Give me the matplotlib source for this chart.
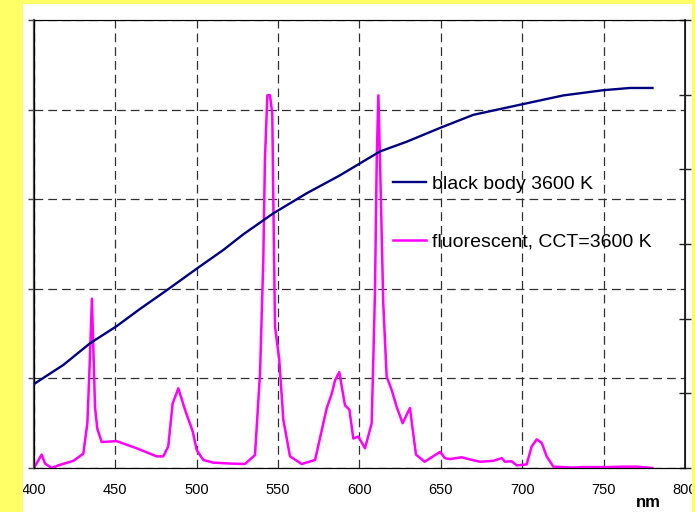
import numpy as np
import matplotlib
matplotlib.use("Agg")
import matplotlib.pyplot as plt
from matplotlib.patches import Rectangle

plt.rcParams['font.family'] = ['Liberation Sans', 'DejaVu Sans']

# ---- data ----
bb_nm = [400, 418, 434.4, 450.8, 465.1, 481.5, 500, 516.3, 528.6, 547, 567.6, 588,
         600.3, 612.6, 629, 649.5, 669.9, 699.6, 725.2, 749.8, 766.2, 780]
bb_val = [1.125, 1.38, 1.67, 1.90, 2.13, 2.38, 2.67, 2.92, 3.13, 3.41, 3.68, 3.92,
          4.08, 4.24, 4.37, 4.555, 4.73, 4.87, 4.99, 5.06, 5.09, 5.09]

fl_nm = [400, 404.7, 406.8, 410.9, 415, 424.2, 430.3, 432.8, 434.4, 435.6, 437.5, 438.9,
         441.6, 450.8, 463.1, 475.4, 479.4, 482.5, 485.2, 488.7, 492.8, 497.5, 500,
         504, 510.2, 520.4, 529.6, 535.8, 538.9, 540.9, 541.9, 543.4, 545, 546.4,
         547, 548.1, 550.7, 553.2, 557.3, 564.5, 572.7, 579.9, 583, 585, 587.6,
         591.1, 593.8, 596.2, 599.3, 603.4, 607.5, 609.5, 610.6, 611.6, 612.6,
         614.6, 616.7, 619.8, 622.9, 626.5, 631, 634.7, 640, 649.5, 652.5, 655.6,
         662.8, 666.9, 674.1, 682.2, 687.4, 689.4, 693.5, 696.6, 702.7, 705.8,
         708.9, 712, 715, 719.1, 731.4, 736.5, 751.9, 762, 770, 780]
fl_val = [0.0, 0.15, 0.05, 0.0, 0.03, 0.08, 0.16, 0.5, 1.24, 1.89, 0.68, 0.44,
          0.29, 0.30, 0.22, 0.13, 0.13, 0.24, 0.72, 0.89, 0.65, 0.41, 0.20,
          0.09, 0.06, 0.05, 0.045, 0.145, 1.06, 2.32, 3.44, 4.16, 4.16, 3.96,
          3.07, 1.58, 1.21, 0.54, 0.13, 0.045, 0.09, 0.67, 0.83, 0.98, 1.07,
          0.70, 0.65, 0.33, 0.35, 0.22, 0.50, 1.95, 3.44, 4.16, 3.44,
          1.84, 1.02, 0.87, 0.68, 0.50, 0.67, 0.15, 0.07, 0.18, 0.11, 0.10,
          0.12, 0.10, 0.07, 0.08, 0.11, 0.07, 0.075, 0.03, 0.04, 0.24,
          0.32, 0.28, 0.13, 0.015, 0.005, 0.01, 0.01, 0.015, 0.015, 0.0]

x_ticks = [400, 450, 500, 550, 600, 650, 700, 750, 800]

fig = plt.figure(figsize=(6.95, 5.12), dpi=100, facecolor='#FFFF66')
fig.add_artist(Rectangle((0.0331, 0), 0.9626, 0.9922, transform=fig.transFigure,
                         facecolor='white', edgecolor='none', zorder=-10))

ax = fig.add_axes([0.0489, 0.0859, 0.9367, 0.875])
ax.set_facecolor('white')
ax2 = ax.twinx()

l2, = ax.plot(fl_nm, fl_val, color='#FF00FF', lw=1.8, zorder=3)
l1, = ax2.plot(bb_nm, bb_val, color='#000080', lw=1.7, zorder=3)

ax.set_xlim(400, 800)
ax.set_ylim(0, 5)
ax2.set_ylim(0, 6)
ax.set_xticks(x_ticks)
ax.set_yticks(range(6))
ax.set_yticklabels([])
ax2.set_yticks(range(7))
ax2.set_yticklabels([])
ax.tick_params(axis='x', length=0, pad=11, labelsize=10.5)
ax.tick_params(axis='y', direction='out', length=4, width=1, color='#404040')
ax2.tick_params(axis='y', direction='inout', length=9, width=1, color='#202020')
ax.grid(True, color='#303030', linestyle=(0, (7, 4)), lw=0.9)

for s in ['left', 'top']:
    ax.spines[s].set_color('#505050')
ax.spines['left'].set_linewidth(1.6)
ax.spines['bottom'].set_color('black')
ax2.spines['right'].set_color('#202020')
ax2.spines['right'].set_linewidth(1.3)

# axis unit label sits under the right end of the axis
ax.text(0.944, -0.078, 'nm', fontsize=12, fontweight='bold', ha='center', va='center',
        transform=ax.transAxes)

leg = ax2.legend([l1, l2], ['black body 3600 K', 'fluorescent, CCT=3600 K'],
                 loc='upper left', bbox_to_anchor=(0.531, 0.683), frameon=False,
                 fontsize=14, handlelength=1.7, handletextpad=0.3, labelspacing=2.05,
                 borderpad=0.2)

# yellow border drawn over clipped tick labels
fig.add_artist(Rectangle((0, 0), 0.0331, 1, transform=fig.transFigure,
                         facecolor='#FFFF66', edgecolor='none', zorder=5))
fig.add_artist(Rectangle((0.9957, 0), 0.0043, 1, transform=fig.transFigure,
                         facecolor='#FFFF66', edgecolor='none', zorder=5))

fig.savefig('out.png', dpi=100, facecolor=fig.get_facecolor())
